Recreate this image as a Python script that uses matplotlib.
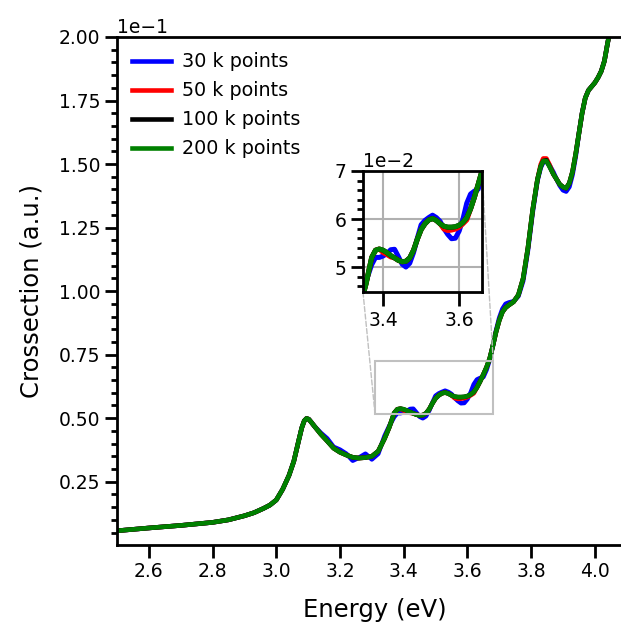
import numpy as np
import matplotlib.pyplot as plt
from matplotlib.ticker import MultipleLocator, AutoMinorLocator

# values read in units of 1e-1
SCALE = 1e-1

energy = [2.50, 2.60, 2.70, 2.80, 2.85, 2.90, 2.93, 2.96, 2.98, 3.00,
          3.02, 3.04, 3.055, 3.07, 3.08, 3.088, 3.095, 3.102, 3.11, 3.12,
          3.14, 3.16, 3.18, 3.20, 3.22, 3.24, 3.26, 3.28, 3.30, 3.32,
          3.34, 3.355, 3.37, 3.38, 3.39, 3.40, 3.41, 3.42, 3.43, 3.44,
          3.45, 3.46, 3.47, 3.48, 3.49, 3.50, 3.51, 3.52, 3.53, 3.54,
          3.55, 3.56, 3.57, 3.58, 3.59, 3.60, 3.61, 3.62, 3.63, 3.64,
          3.65, 3.66, 3.67, 3.68, 3.69, 3.70, 3.71, 3.72, 3.73, 3.745,
          3.76, 3.775, 3.79, 3.805, 3.82, 3.83, 3.838, 3.848, 3.858, 3.87,
          3.88, 3.89, 3.90, 3.91, 3.92, 3.93, 3.94, 3.95, 3.96, 3.97,
          3.98, 3.99, 4.00, 4.01, 4.02, 4.03, 4.04, 4.05, 4.07, 4.10]

cs_30k = [0.057, 0.068, 0.078, 0.090, 0.100, 0.116, 0.128, 0.145, 0.158, 0.178,
          0.220, 0.275, 0.330, 0.410, 0.462, 0.490, 0.499, 0.496, 0.484, 0.468,
          0.442, 0.420, 0.387, 0.376, 0.360, 0.333, 0.345, 0.360, 0.338, 0.360,
          0.430, 0.470, 0.505, 0.520, 0.520, 0.523, 0.528, 0.536, 0.537, 0.522,
          0.506, 0.500, 0.508, 0.530, 0.560, 0.588, 0.597, 0.603, 0.608, 0.603,
          0.595, 0.580, 0.568, 0.559, 0.560, 0.575, 0.600, 0.633, 0.652, 0.658,
          0.662, 0.690, 0.730, 0.785, 0.845, 0.895, 0.930, 0.950, 0.955, 0.960,
          0.980, 1.040, 1.160, 1.310, 1.435, 1.485, 1.507, 1.510, 1.495, 1.468,
          1.440, 1.415, 1.397, 1.392, 1.410, 1.458, 1.530, 1.620, 1.700, 1.760,
          1.790, 1.805, 1.820, 1.840, 1.865, 1.905, 1.975, 2.040, 2.250, 2.600]

cs_50k = [0.057, 0.068, 0.078, 0.090, 0.100, 0.116, 0.128, 0.145, 0.158, 0.178,
          0.220, 0.275, 0.330, 0.410, 0.462, 0.490, 0.499, 0.496, 0.484, 0.468,
          0.437, 0.410, 0.382, 0.366, 0.355, 0.346, 0.343, 0.345, 0.350, 0.370,
          0.420, 0.465, 0.520, 0.535, 0.5375, 0.530, 0.526, 0.521, 0.519, 0.514,
          0.511, 0.512, 0.519, 0.535, 0.558, 0.578, 0.590, 0.598, 0.601, 0.597,
          0.590, 0.579, 0.576, 0.577, 0.579, 0.583, 0.590, 0.598, 0.621, 0.645,
          0.672, 0.700, 0.735, 0.785, 0.840, 0.885, 0.918, 0.935, 0.945, 0.958,
          0.985, 1.050, 1.170, 1.320, 1.440, 1.498, 1.522, 1.522, 1.497, 1.460,
          1.440, 1.420, 1.410, 1.405, 1.425, 1.470, 1.540, 1.620, 1.700, 1.760,
          1.790, 1.805, 1.820, 1.840, 1.865, 1.905, 1.975, 2.040, 2.250, 2.600]

cs_100k = [0.057, 0.068, 0.078, 0.090, 0.100, 0.116, 0.128, 0.145, 0.158, 0.178,
           0.220, 0.275, 0.330, 0.410, 0.462, 0.490, 0.499, 0.496, 0.484, 0.468,
           0.437, 0.410, 0.382, 0.366, 0.355, 0.346, 0.343, 0.345, 0.350, 0.370,
           0.420, 0.465, 0.520, 0.535, 0.5375, 0.535, 0.530, 0.524, 0.519, 0.514,
           0.511, 0.512, 0.519, 0.535, 0.558, 0.578, 0.590, 0.598, 0.601, 0.597,
           0.590, 0.585, 0.583, 0.583, 0.584, 0.587, 0.593, 0.603, 0.621, 0.645,
           0.672, 0.700, 0.735, 0.785, 0.840, 0.885, 0.918, 0.935, 0.945, 0.958,
           0.985, 1.050, 1.170, 1.320, 1.440, 1.490, 1.512, 1.515, 1.490, 1.460,
           1.440, 1.420, 1.410, 1.405, 1.425, 1.470, 1.540, 1.620, 1.700, 1.760,
           1.790, 1.805, 1.820, 1.840, 1.865, 1.905, 1.975, 2.040, 2.250, 2.600]

cs_200k = [0.057, 0.068, 0.078, 0.090, 0.100, 0.116, 0.128, 0.145, 0.158, 0.178,
           0.220, 0.275, 0.330, 0.410, 0.462, 0.490, 0.499, 0.496, 0.484, 0.468,
           0.437, 0.410, 0.382, 0.366, 0.355, 0.346, 0.343, 0.345, 0.350, 0.370,
           0.420, 0.465, 0.520, 0.535, 0.5375, 0.535, 0.530, 0.524, 0.519, 0.514,
           0.511, 0.512, 0.519, 0.535, 0.558, 0.578, 0.590, 0.598, 0.601, 0.597,
           0.590, 0.585, 0.583, 0.583, 0.584, 0.587, 0.593, 0.603, 0.621, 0.645,
           0.672, 0.700, 0.735, 0.785, 0.840, 0.885, 0.918, 0.935, 0.945, 0.958,
           0.985, 1.050, 1.170, 1.320, 1.440, 1.490, 1.512, 1.512, 1.490, 1.460,
           1.440, 1.420, 1.410, 1.405, 1.425, 1.470, 1.540, 1.620, 1.700, 1.760,
           1.790, 1.805, 1.820, 1.840, 1.865, 1.905, 1.975, 2.040, 2.250, 2.600]

series = [(cs_30k, 'blue', '30 k points'),
          (cs_50k, 'red', '50 k points'),
          (cs_100k, 'black', '100 k points'),
          (cs_200k, 'green', '200 k points')]

fig = plt.figure(figsize=(6.21, 6.25), dpi=100)
# right edge of the axes lies just past the figure border, as in the original
ax = fig.add_axes([0.1884, 0.128, 0.831, 0.8128])

for vals, col, lab in series:
    ax.plot(energy, np.array(vals) * SCALE, color=col, lw=3.3, label=lab)

ax.set_xlim(2.5, 4.12)
ax.set_ylim(0.0001, 0.2)
ax.xaxis.set_major_locator(MultipleLocator(0.2))
ax.yaxis.set_major_locator(MultipleLocator(0.025))
ax.yaxis.set_minor_locator(AutoMinorLocator(5))
ax.ticklabel_format(axis='y', style='sci', scilimits=(0, 0))
ax.tick_params(which='major', length=8.5, width=2, labelsize=13.5)
ax.tick_params(axis='x', which='major', length=9)
ax.tick_params(which='minor', length=4.5, width=2)
ax.yaxis.get_offset_text().set_fontsize(13.5)
for s in ax.spines.values():
    s.set_linewidth(2)
ax.spines['right'].set_visible(False)
ax.set_xlabel('Energy (eV)', fontsize=17.5, labelpad=12)
ax.set_ylabel('Crossection (a.u.)', fontsize=17.5, labelpad=11)
ax.legend(loc='upper left', frameon=False, fontsize=13.8, labelspacing=0.52,
          handlelength=2.0, handletextpad=0.6, borderaxespad=0.4)

# zoomed inset
axins = fig.add_axes([0.5845, 0.5328, 0.1916, 0.1936])
for vals, col, lab in series:
    axins.plot(energy, np.array(vals) * SCALE, color=col, lw=3.6)
axins.set_xlim(3.347, 3.66)
axins.set_ylim(0.0448, 0.070)
axins.xaxis.set_major_locator(MultipleLocator(0.2))
axins.yaxis.set_major_locator(MultipleLocator(0.01))
axins.yaxis.set_minor_locator(AutoMinorLocator(5))
axins.ticklabel_format(axis='y', style='sci', scilimits=(0, 0))
axins.tick_params(which='major', length=8.5, width=2, labelsize=13.5)
axins.tick_params(axis='x', which='major', length=10)
axins.tick_params(which='minor', length=4.5, width=2)
axins.yaxis.get_offset_text().set_fontsize(13.5)
axins.grid(True, color='#b0b0b0', lw=1.5)
axins.set_axisbelow(True)
for s in axins.spines.values():
    s.set_linewidth(2)

ind = ax.indicate_inset(bounds=[3.31, 0.0517, 0.371, 0.0209], inset_ax=axins,
                        edgecolor='#c0c0c0', lw=1.5, alpha=1)
for c in ind.connectors:
    c.set_linestyle('--')
    c.set_linewidth(1)
    c.set_edgecolor('#c0c0c0')

fig.savefig('out.png', dpi=100)
